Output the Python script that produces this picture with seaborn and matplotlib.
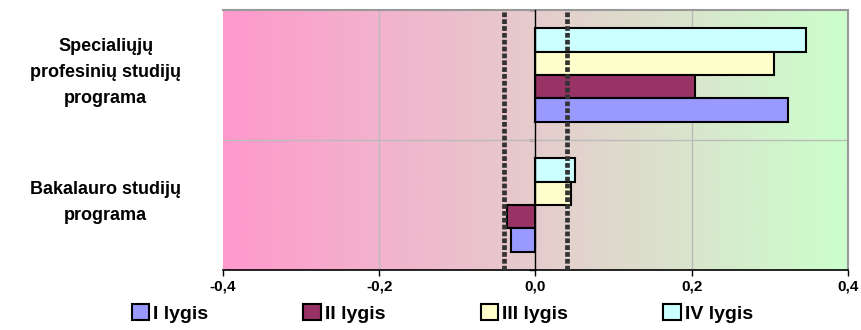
import numpy as np
import pandas as pd
import matplotlib
matplotlib.use("Agg")
import matplotlib.pyplot as plt
from matplotlib.colors import LinearSegmentedColormap
from matplotlib.patches import Patch
import seaborn as sns

# Study programmes (top to bottom) and deviation values per level
programs = ["Specialiųjų\nprofesinių studijų\nprograma", "Bakalauro studijų\nprograma"]
levels = ["I lygis", "II lygis", "III lygis", "IV lygis"]
level_1 = [0.323, -0.031]
level_2 = [0.204, -0.036]
level_3 = [0.305, 0.045]
level_4 = [0.346, 0.051]
threshold = 0.04
x_ticks = [-0.4, -0.2, 0.0, 0.2, 0.4]
x_tick_labels = ["-0,4", "-0,2", "0,0", "0,2", "0,4"]

colors = {"I lygis": "#9999FF", "II lygis": "#993366",
          "III lygis": "#FFFFCC", "IV lygis": "#CCFFFF"}

rows = []
for lvl, vals in zip(levels, [level_1, level_2, level_3, level_4]):
    for prog, v in zip(programs, vals):
        rows.append({"program": prog, "level": lvl, "value": v})
df = pd.DataFrame(rows)

sns.set_theme(style="white")
plt.rcParams["font.family"] = ["Liberation Sans", "DejaVu Sans"]

fig = plt.figure(figsize=(8.62, 3.30), dpi=100)
ax = fig.add_axes([223 / 862, 60 / 330, 625 / 862, 260 / 330])

# Pink-to-green background gradient
cmap = LinearSegmentedColormap.from_list("bg", ["#FF99CC", "#CCFFCC"])
grad = np.linspace(0, 1, 256).reshape(1, -1)
ax.imshow(grad, cmap=cmap, aspect="auto", extent=[0, 1, 0, 1],
          transform=ax.transAxes, zorder=0)

sns.barplot(data=df, y="program", x="value", hue="level",
            order=programs, hue_order=levels[::-1],
            palette=colors, orient="h", width=0.72, gap=0,
            edgecolor="black", linewidth=1.5, saturation=1,
            legend=False, ax=ax, zorder=3)

ax.set_xlim(-0.4, 0.4)
ax.set_ylim(1.5, -0.5)

# Grid lines
for gx in [-0.2, 0.2]:
    ax.axvline(gx, color="#BBBBBB", lw=1, zorder=1)
ax.axhline(0.5, color="#BBBBBB", lw=1, zorder=1)

# Threshold markers
for tx in [-threshold, threshold]:
    ax.axvline(tx, color="#333333", lw=3.4, linestyle=(0, (1.0, 0.45)), zorder=4)

# Axes styling
ax.spines["left"].set_position(("data", 0))
ax.spines["left"].set_color("black")
ax.spines["left"].set_linewidth(1)
ax.spines["left"].set_zorder(5)
ax.spines["bottom"].set_color("black")
ax.spines["bottom"].set_linewidth(1.2)
for s in ["top", "right"]:
    ax.spines[s].set_color("#999999")
    ax.spines[s].set_linewidth(1.5)

ax.set_yticks([-0.5, 0.5, 1.5])
ax.set_yticklabels([])
ax.tick_params(axis="y", direction="out", length=4, width=1, color="black", left=True)
ax.set_xticks(x_ticks)
ax.set_xticklabels(x_tick_labels, fontsize=11, fontweight="bold", color="black")
ax.tick_params(axis="x", direction="out", length=4, width=1, color="black",
               bottom=True, pad=3)
ax.set_xlabel("")
ax.set_ylabel("")

# Category labels
for i, prog in enumerate(programs):
    ax.text(-0.4 - 0.150, i - 0.02, prog, ha="center", va="center", fontsize=13,
            fontweight="bold", linespacing=1.72, color="black",
            transform=ax.transData, clip_on=False)

# Legend
handles = [Patch(facecolor=colors[l], edgecolor="black", linewidth=1.5, label=l)
           for l in levels]
fig.legend(handles=handles, loc="center", bbox_to_anchor=(0.513, 0.05), ncol=4,
           frameon=False, handlelength=0.9, handleheight=0.9, handletextpad=0.2,
           columnspacing=4.9, labelcolor="black",
           prop={"weight": "bold", "size": 14})

fig.savefig("out.png", dpi=100)
